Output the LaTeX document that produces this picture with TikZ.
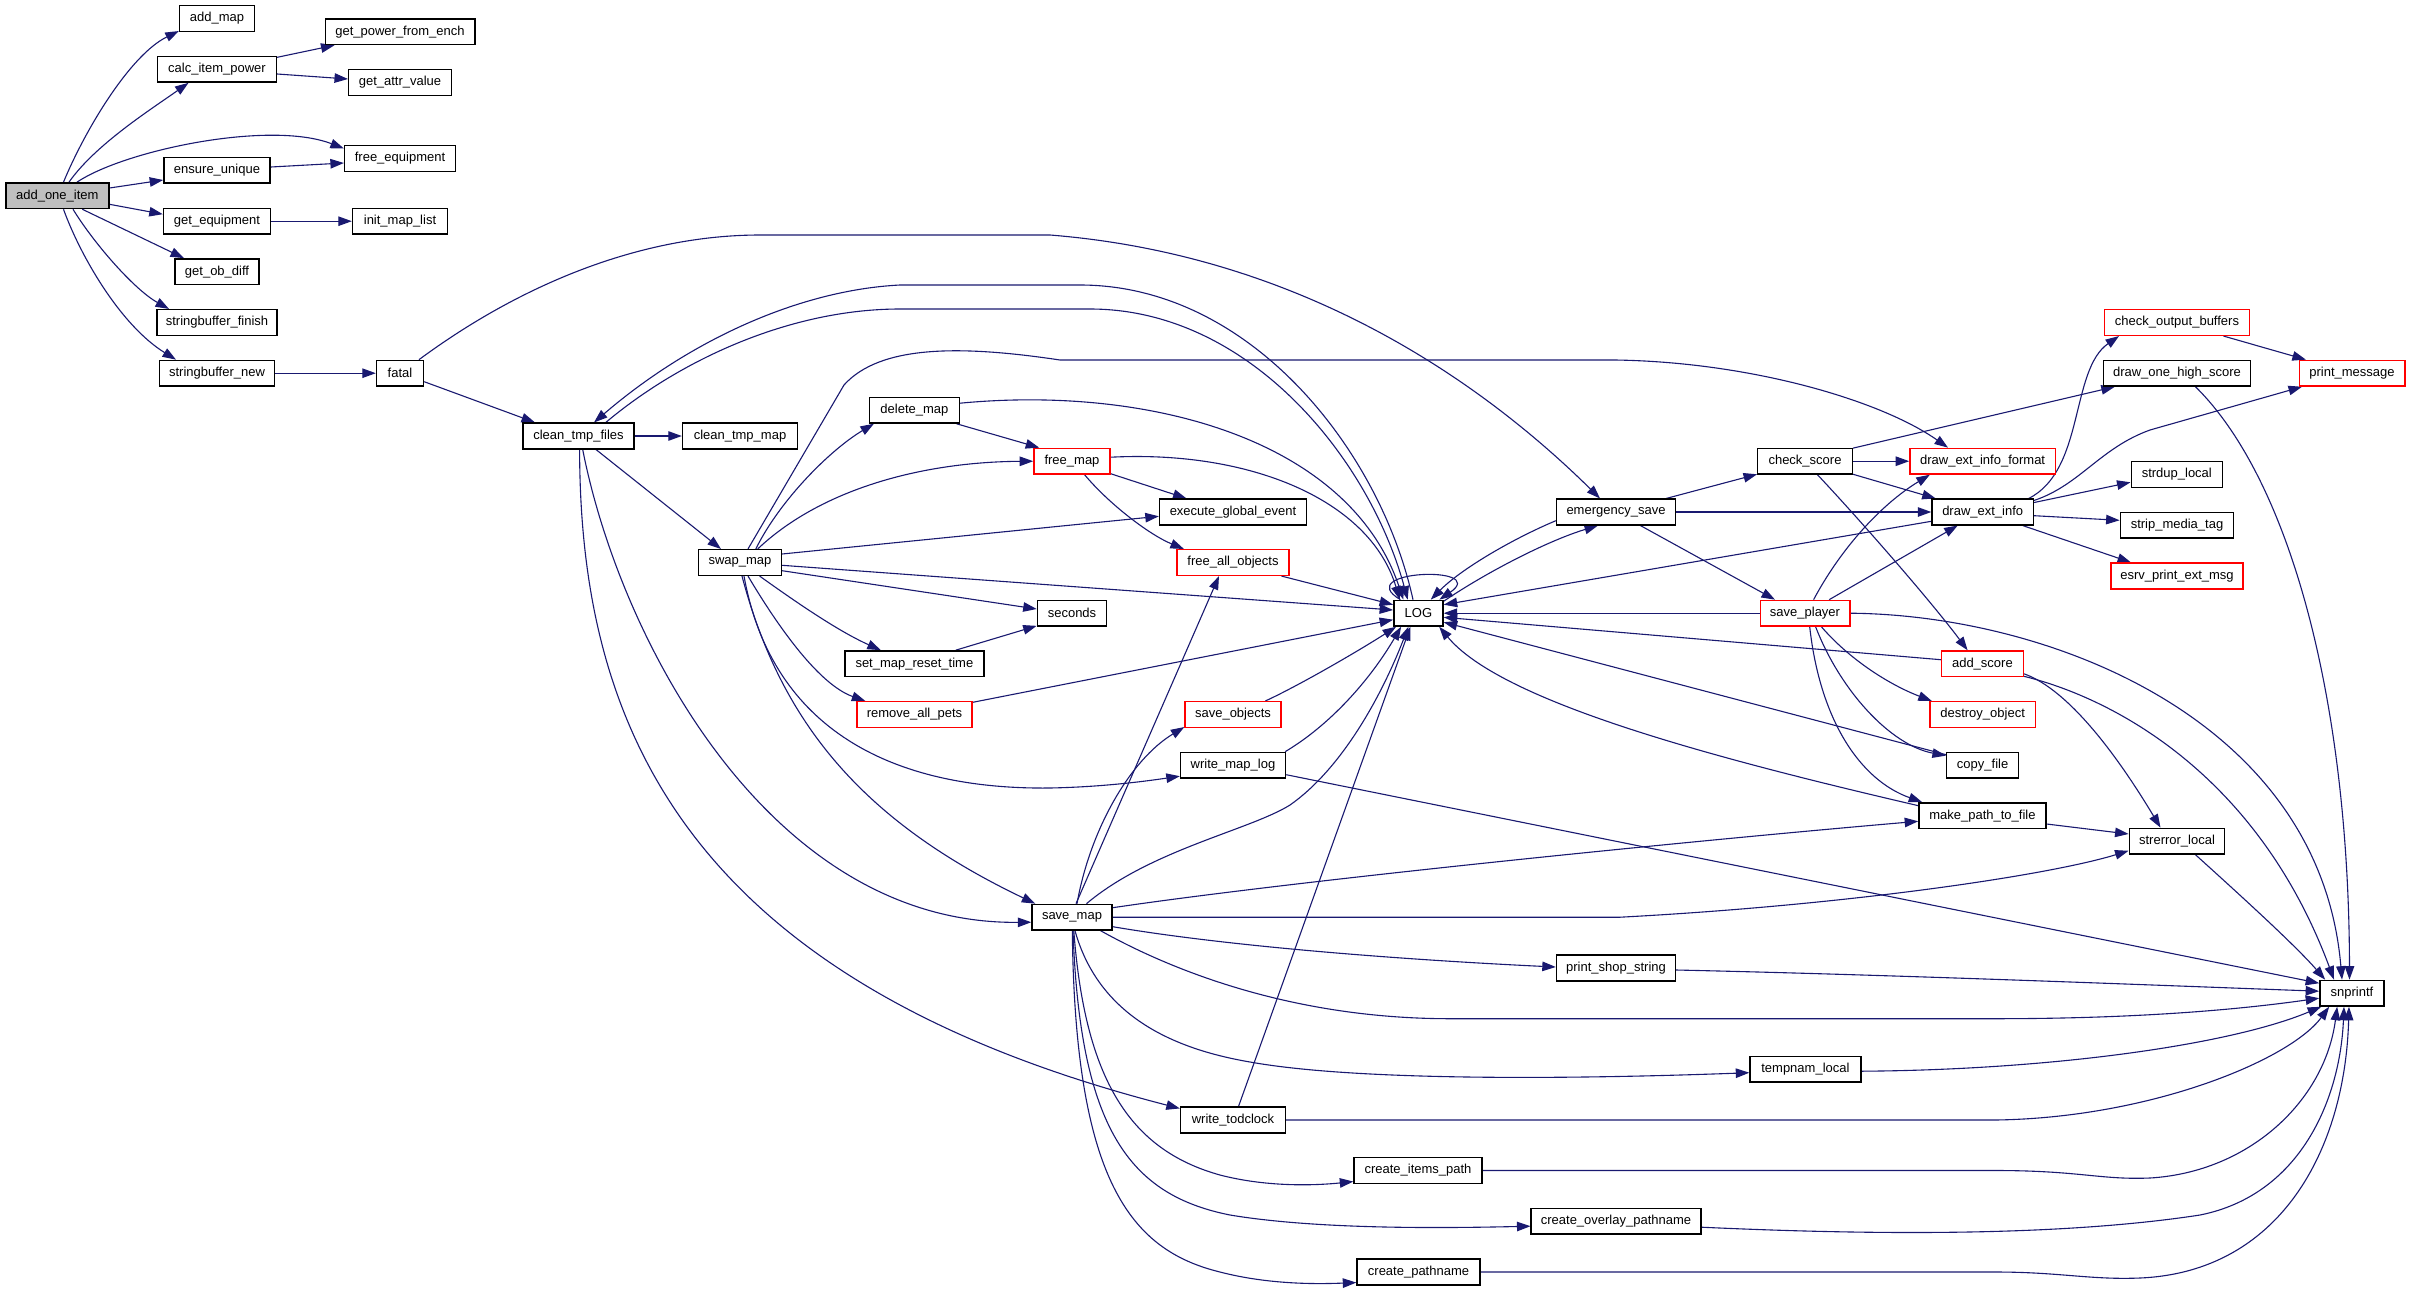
\documentclass[tikz,border=0pt]{standalone}
\usepackage{fontspec}
\newfontfamily\dfont{Liberation Sans}
\usetikzlibrary{arrows.meta}
\definecolor{edgec}{RGB}{25,25,112}
\definecolor{grayfill}{RGB}{191,191,191}
\pgfdeclarelayer{bg}
\pgfsetlayers{bg,main}
\tikzset{
  box/.style={draw=black, line width=0.7pt, fill=white, rectangle, inner sep=0pt,
    minimum height=12.85pt, font=\dfont\fontsize{6.5pt}{7.8pt}\selectfont},
  redbox/.style={box, draw=red},
  bw/.style={minimum width=#1*0.5pt},
  e/.style={draw=edgec, line width=0.55pt, -{Triangle[length=6.75pt,width=4.75pt]}},
}
\begin{document}
\begin{tikzpicture}[x=0.5pt,y=-0.5pt]
\path[use as bounding box] (0,0) rectangle (2411,1291);

\node[box, bw=103, fill=grayfill] (add_one_item) at (57.3,195.7) {add\_one\_item};
\node[box, bw=75] (add_map) at (217,18.5) {add\_map};
\node[box, bw=119] (calc_item_power) at (217,69.3) {calc\_item\_power};
\node[box, bw=149.6] (get_power_from_ench) at (400,31.7) {get\_power\_from\_ench};
\node[box, bw=102.6] (get_attr_value) at (400,82.5) {get\_attr\_value};
\node[box, bw=110.8] (free_equipment) at (400,158.5) {free\_equipment};
\node[box, bw=106.2] (ensure_unique) at (217,170.2) {ensure\_unique};
\node[box, bw=107] (get_equipment) at (217,221.2) {get\_equipment};
\node[box, bw=95] (init_map_list) at (400,221.2) {init\_map\_list};
\node[box, bw=84.2] (get_ob_diff) at (217,271.7) {get\_ob\_diff};
\node[box, bw=120] (stringbuffer_finish) at (217,322.5) {stringbuffer\_finish};
\node[box, bw=115] (stringbuffer_new) at (217,373.2) {stringbuffer\_new};
\node[box, bw=47] (fatal) at (400,373.2) {fatal};
\node[box, bw=111] (clean_tmp_files) at (578.5,436) {clean\_tmp\_files};
\node[box, bw=115] (clean_tmp_map) at (740,436) {clean\_tmp\_map};
\node[box, bw=89.6] (delete_map) at (914.4,410.2) {delete\_map};
\node[redbox, bw=76.2] (free_map) at (1072,461.2) {free\_map};
\node[box, bw=147] (execute_global_event) at (1233,512) {execute\_global\_event};
\node[redbox, bw=112] (free_all_objects) at (1233,562.5) {free\_all\_objects};
\node[box, bw=82.7] (swap_map) at (740,562.5) {swap\_map};
\node[box, bw=49.2] (LOG) at (1418.4,613.2) {LOG};
\node[box, bw=69.2] (seconds) at (1072,613.3) {seconds};
\node[box, bw=138.8] (set_map_reset_time) at (914.4,663.7) {set\_map\_reset\_time};
\node[redbox, bw=115] (remove_all_pets) at (914.5,714.5) {remove\_all\_pets};
\node[redbox, bw=96] (save_objects) at (1233,714.5) {save\_objects};
\node[box, bw=105] (write_map_log) at (1233,765.2) {write\_map\_log};
\node[box, bw=80] (save_map) at (1072,917.2) {save\_map};
\node[box, bw=119] (emergency_save) at (1616,512) {emergency\_save};
\node[box, bw=94.5] (check_score) at (1805,461.2) {check\_score};
\node[redbox, bw=145.4] (draw_ext_info_format) at (1982.6,461.2) {draw\_ext\_info\_format};
\node[box, bw=101.4] (draw_ext_info) at (1982.7,512) {draw\_ext\_info};
\node[redbox, bw=89.6] (save_player) at (1805,613.2) {save\_player};
\node[redbox, bw=81.8] (add_score) at (1982.4,663.8) {add\_score};
\node[redbox, bw=105.6] (destroy_object) at (1982.6,714.5) {destroy\_object};
\node[box, bw=72] (copy_file) at (1982.6,765.2) {copy\_file};
\node[box, bw=127] (make_path_to_file) at (1982.4,815.7) {make\_path\_to\_file};
\node[box, bw=95.5] (strerror_local) at (2177,841.2) {strerror\_local};
\node[redbox, bw=144.6] (check_output_buffers) at (2177,322.5) {check\_output\_buffers};
\node[box, bw=147] (draw_one_high_score) at (2177,373.2) {draw\_one\_high\_score};
\node[redbox, bw=105.6] (print_message) at (2352,373.2) {print\_message};
\node[box, bw=91.2] (strdup_local) at (2176.8,474.5) {strdup\_local};
\node[box, bw=113.4] (strip_media_tag) at (2177,525.2) {strip\_media\_tag};
\node[redbox, bw=132] (esrv_print_ext_msg) at (2177,576) {esrv\_print\_ext\_msg};
\node[box, bw=64.3] (snprintf) at (2352,993.2) {snprintf};
\node[box, bw=119] (print_shop_string) at (1616,968) {print\_shop\_string};
\node[box, bw=110.8] (tempnam_local) at (1805.4,1069.2) {tempnam\_local};
\node[box, bw=105] (write_todclock) at (1233,1120) {write\_todclock};
\node[box, bw=128] (create_items_path) at (1418,1170.5) {create\_items\_path};
\node[box, bw=169.7] (create_overlay_pathname) at (1616,1221.2) {create\_overlay\_pathname};
\node[box, bw=123] (create_pathname) at (1418.5,1272) {create\_pathname};

\begin{pgfonlayer}{bg}
\fill[white] (0,0) rectangle (2411,1291);
% add_one_item
\draw[e] ([shift={(6.2,0)}]add_one_item.north) .. controls (85,130) and (130,55) .. ([shift={(0,-1)}]add_map.south west);
\draw[e] ([shift={(11.7,0)}]add_one_item.north) .. controls (95,145) and (150,110) .. ([shift={(-28.5,0)}]calc_item_power.south);
\draw[e] ([shift={(19.7,0)}]add_one_item.north) .. controls (125,150) and (270,120) .. ([shift={(0,-10)}]free_equipment.west);
\draw[e] ([shift={(0,-7.7)}]add_one_item.east) -- ([shift={(0,9.8)}]ensure_unique.west);
\draw[e] ([shift={(0,8.6)}]add_one_item.east) -- ([shift={(0,-7)}]get_equipment.west);
\draw[e] ([shift={(25,0)}]add_one_item.south) -- ([shift={(-33,0)}]get_ob_diff.north);
\draw[e] ([shift={(15.7,0)}]add_one_item.south) .. controls (95,245) and (135,290) .. ([shift={(-48,0)}]stringbuffer_finish.north);
\draw[e] ([shift={(6.2,0)}]add_one_item.south) .. controls (80,255) and (120,325) .. ([shift={(-41,0)}]stringbuffer_new.north);
\draw[e] ([shift={(0,-12)}]calc_item_power.east) -- ([shift={(10,0)}]get_power_from_ench.south west);
\draw[e] ([shift={(0,4.7)}]calc_item_power.east) -- ([shift={(0,-3.5)}]get_attr_value.west);
\draw[e] ([shift={(0,-3.2)}]ensure_unique.east) -- ([shift={(0,4.5)}]free_equipment.west);
\draw[e] (get_equipment.east) -- (init_map_list.west);
\draw[e] (stringbuffer_new.east) -- (fatal.west);
% fatal
\draw[e] ([shift={(0,8.5)}]fatal.east) -- ([shift={(-43.5,0)}]clean_tmp_files.north);
\draw[e] ([shift={(19,0)}]fatal.north) .. controls (520,285) and (640,235) .. (760,235) -- (1050,235) .. controls (1300,255) and (1480,380) .. ([shift={(-16,0)}]emergency_save.north);
% clean_tmp_files
\draw[e] (clean_tmp_files.east) -- (clean_tmp_map.west);
\draw[e] ([shift={(17.5,0)}]clean_tmp_files.south) -- ([shift={(-19,0)}]swap_map.north);
\draw[e] ([shift={(4.2,0)}]clean_tmp_files.south) .. controls (620,640) and (770,925) .. ([shift={(0,5)}]save_map.west);
\draw[e] ([shift={(1.1,0)}]clean_tmp_files.south) .. controls (580,720) and (680,980) .. ([shift={(0,2)}]write_todclock.north west);
\draw[e] ([shift={(27.3,0)}]clean_tmp_files.north) .. controls (680,360) and (790,309) .. (900,309) -- (1090,309) .. controls (1250,309) and (1370,460) .. ([shift={(-10.7,0)}]LOG.north);
\draw[e] ([shift={(-5.4,0)}]LOG.north) .. controls (1380,450) and (1250,285) .. (1080,285) -- (900,285) .. controls (800,290) and (690,340) .. ([shift={(15.5,0)}]clean_tmp_files.north);
% delete_map, free_map
\draw[e] ([shift={(0,-7)}]delete_map.east) .. controls (1150,385) and (1350,440) .. ([shift={(-15,0)}]LOG.north);
\draw[e] ([shift={(0,-4)}]free_map.east) .. controls (1250,450) and (1370,500) .. ([shift={(-18.6,0)}]LOG.north);
\draw[e] ([shift={(-3.4,0)}]delete_map.south east) -- ([shift={(6,0)}]free_map.north west);
\draw[e] ([shift={(0,-1)}]free_map.south east) -- ([shift={(-46.5,0)}]execute_global_event.north);
\draw[e] ([shift={(12.6,0)}]free_map.south) .. controls (1110,505) and (1150,535) .. ([shift={(7.6,0)}]free_all_objects.north west);
% swap_map
\draw[e] ([shift={(15.8,0)}]swap_map.north) .. controls (780,500) and (830,450) .. ([shift={(5,0)}]delete_map.south west);
\draw[e] ([shift={(8,0)}]swap_map.north) -- (844,385) .. controls (880,345) and (960,345) .. (1060,360) -- (1615,360) .. controls (1750,362) and (1880,400) .. ([shift={(-34.6,0)}]draw_ext_info_format.north);
\draw[e] ([shift={(17.7,0)}]swap_map.north) .. controls (820,490) and (920,462) .. (free_map.west);
\draw[e] ([shift={(0,-8.5)}]swap_map.east) -- ([shift={(0,4.3)}]execute_global_event.west);
\draw[e] ([shift={(0,2.8)}]swap_map.east) -- ([shift={(0,-3.2)}]LOG.west);
\draw[e] ([shift={(0,8.2)}]swap_map.east) -- ([shift={(0,-4.3)}]seconds.west);
\draw[e] ([shift={(19.6,0)}]swap_map.south) .. controls (800,605) and (840,632) .. ([shift={(-33.6,0)}]set_map_reset_time.north);
\draw[e] ([shift={(8,0)}]swap_map.south) .. controls (780,630) and (820,685) .. ([shift={(9,0)}]remove_all_pets.north west);
\draw[e] ([shift={(4,0)}]swap_map.south) .. controls (770,720) and (880,790) .. (1050,788) .. controls (1100,787) and (1140,782) .. ([shift={(0,11)}]write_map_log.west);
\draw[e] ([shift={(2,0)}]swap_map.south) .. controls (780,720) and (860,820) .. ([shift={(4,0)}]save_map.north west);
\draw[e] ([shift={(41.4,0)}]set_map_reset_time.north) -- ([shift={(0,-1)}]seconds.south west);
% into LOG from left
\draw[e] ([shift={(-8.2,0)}]free_all_objects.south east) -- ([shift={(0,-8.5)}]LOG.west);
\draw[e] ([shift={(0,1.35)}]remove_all_pets.north east) -- ([shift={(0,6.5)}]LOG.west);
\draw[e] ([shift={(32.4,0)}]save_objects.north) .. controls (1300,685) and (1360,650) .. ([shift={(3,0)}]LOG.south west);
\draw[e] ([shift={(-1,0)}]write_map_log.north east) .. controls (1330,725) and (1370,680) .. ([shift={(8,0)}]LOG.south west);
\draw[e] ([shift={(14.5,0)}]save_map.north) .. controls (1150,850) and (1250,830) .. (1290,805) .. controls (1340,770) and (1380,700) .. ([shift={(-10,0)}]LOG.south);
\draw[e] ([shift={(5.5,0)}]write_todclock.north) -- ([shift={(-8,0)}]LOG.south);
% LOG self loop
\draw[e] ([shift={(-18,0)}]LOG.north) .. controls (1350,570) and (1490,565) .. ([shift={(21,0)}]LOG.north);
% save_map
\draw[e] ([shift={(4,0)}]save_map.north) -- ([shift={(-14,0)}]free_all_objects.south);
\draw[e] ([shift={(5,0)}]save_map.north) .. controls (1090,830) and (1130,760) .. ([shift={(0,-1)}]save_objects.south west);
\draw[e] ([shift={(0,-9.5)}]save_map.east) .. controls (1300,880) and (1700,840) .. ([shift={(0,5.6)}]make_path_to_file.west);
\draw[e] (save_map.east) -- (1620,917.2) .. controls (1850,905) and (2050,875) .. ([shift={(0,-4)}]strerror_local.south west);
\draw[e] ([shift={(0,9.5)}]save_map.east) .. controls (1250,950) and (1450,962) .. ([shift={(0,-1)}]print_shop_string.west);
\draw[e] ([shift={(-12,0)}]save_map.south east) .. controls (1180,975) and (1300,1018.7) .. (1450,1018.7) -- (1995,1018.7) .. controls (2150,1018.7) and (2250,1008) .. ([shift={(0,5)}]snprintf.west);
\draw[e] ([shift={(3,0)}]save_map.south) .. controls (1100,1020) and (1180,1050) .. (1250,1062) .. controls (1350,1080) and (1550,1080) .. ([shift={(0,3.5)}]tempnam_local.west);
\draw[e] ([shift={(1.8,0)}]save_map.south) .. controls (1085,1080) and (1130,1150) .. (1220,1175) .. controls (1270,1188) and (1320,1185) .. ([shift={(0,-2.5)}]create_items_path.south west);
\draw[e] ([shift={(1,0)}]save_map.south) .. controls (1080,1130) and (1130,1195) .. (1230,1215) .. controls (1320,1230) and (1450,1228) .. ([shift={(0,5)}]create_overlay_pathname.west);
\draw[e] ([shift={(0.3,0)}]save_map.south) .. controls (1075,1180) and (1130,1250) .. (1220,1272) .. controls (1270,1285) and (1320,1284) .. ([shift={(0,-3)}]create_pathname.south west);
% emergency_save and LOG right side
\draw[e] ([shift={(0,8.7)}]emergency_save.west) .. controls (1510,540) and (1460,570) .. ([shift={(12.4,0)}]LOG.north);
\draw[e] ([shift={(0,-12)}]LOG.east) .. controls (1490,570) and (1550,540) .. ([shift={(-18,0)}]emergency_save.south);
\draw[e] ([shift={(0,9.3)}]draw_ext_info.west) -- ([shift={(0,-8.5)}]LOG.east);
\draw[e] (save_player.west) -- (LOG.east);
\draw[e] ([shift={(0,-4.1)}]add_score.west) -- ([shift={(0,4.1)}]LOG.east);
\draw[e] ([shift={(0,3)}]copy_file.north west) -- ([shift={(0,9)}]LOG.east);
\draw[e] ([shift={(0,3.5)}]make_path_to_file.north west) .. controls (1700,755) and (1500,700) .. ([shift={(-4.5,0)}]LOG.south east);
\draw[e] ([shift={(-10,0)}]emergency_save.north east) -- ([shift={(0,-0.5)}]check_score.south west);
\draw[e] (emergency_save.east) -- (draw_ext_info.west);
\draw[e] ([shift={(24.4,0)}]emergency_save.south) -- ([shift={(-30,0)}]save_player.north);
% check_score
\draw[e] (check_score.east) -- (draw_ext_info_format.west);
\draw[e] ([shift={(0,-0.5)}]check_score.south east) -- ([shift={(4.4,0)}]draw_ext_info.north west);
\draw[e] ([shift={(0,0.5)}]check_score.north east) -- ([shift={(12,0)}]draw_one_high_score.south west);
\draw[e] ([shift={(12.5,0)}]check_score.south) .. controls (1860,520) and (1930,600) .. ([shift={(-14.8,0)}]add_score.north);
% draw_ext_info
\draw[e] ([shift={(-5.4,0)}]draw_ext_info.north east) .. controls (2085,470) and (2070,370) .. ([shift={(15,0)}]check_output_buffers.south west);
\draw[e] ([shift={(0,2)}]draw_ext_info.north east) .. controls (2080,485) and (2100,448) .. (2150,430) -- ([shift={(3.5,0)}]print_message.south west);
\draw[e] ([shift={(0,-9.5)}]draw_ext_info.east) -- ([shift={(0,7.8)}]strdup_local.west);
\draw[e] ([shift={(0,3.7)}]draw_ext_info.east) -- ([shift={(0,-4.9)}]strip_media_tag.west);
\draw[e] ([shift={(-11.4,0)}]draw_ext_info.south east) -- ([shift={(-46,0)}]esrv_print_ext_msg.north);
\draw[e] ([shift={(-26.5,0)}]check_output_buffers.south east) -- ([shift={(7.4,0)}]print_message.north west);
\draw[e] ([shift={(18.5,0)}]draw_one_high_score.south) .. controls (2290,480) and (2349,700) .. ([shift={(-2.5,0)}]snprintf.north);
% save_player
\draw[e] ([shift={(8.6,0)}]save_player.north) .. controls (1840,550) and (1880,505) .. ([shift={(20.6,0)}]draw_ext_info_format.south west);
\draw[e] ([shift={(24.2,0)}]save_player.north) -- ([shift={(-25,0)}]draw_ext_info.south);
\draw[e] (save_player.east) .. controls (2050,615) and (2320,720) .. ([shift={(-10,0)}]snprintf.north);
\draw[e] ([shift={(16.4,0)}]save_player.south) .. controls (1850,660) and (1890,685) .. ([shift={(2.7,0)}]destroy_object.north west);
\draw[e] ([shift={(10.6,0)}]save_player.south) .. controls (1840,690) and (1890,745) .. ([shift={(0,4)}]copy_file.north west);
\draw[e] ([shift={(4.7,0)}]save_player.south) .. controls (1820,720) and (1860,780) .. ([shift={(4,0)}]make_path_to_file.north west);
% add_score, make_path, strerror
\draw[e] ([shift={(0,10)}]add_score.east) .. controls (2070,690) and (2120,760) .. ([shift={(-16.5,0)}]strerror_local.north);
\draw[e] ([shift={(0,12.5)}]add_score.east) .. controls (2120,700) and (2260,780) .. ([shift={(-18,0)}]snprintf.north);
\draw[e] ([shift={(0,8.3)}]make_path_to_file.east) -- ([shift={(0,-7.2)}]strerror_local.west);
\draw[e] ([shift={(18.5,0)}]strerror_local.south) .. controls (2240,895) and (2295,945) .. ([shift={(6,0)}]snprintf.north west);
% into snprintf
\draw[e] ([shift={(0,9.5)}]write_map_log.east) -- ([shift={(0,-10)}]snprintf.west);
\draw[e] ([shift={(0,2)}]print_shop_string.east) .. controls (1900,975) and (2150,985) .. ([shift={(0,-2)}]snprintf.west);
\draw[e] ([shift={(0,2)}]tempnam_local.east) .. controls (2050,1070) and (2230,1045) .. ([shift={(2,0)}]snprintf.south west);
\draw[e] (write_todclock.east) -- (1995,1120) .. controls (2150,1118) and (2290,1060) .. ([shift={(10,0)}]snprintf.south west);
\draw[e] (create_items_path.east) -- (1995,1170.5) .. controls (2080,1170.5) and (2100,1180) .. (2150,1178) .. controls (2250,1172) and (2325,1100) .. ([shift={(18,0)}]snprintf.south west);
\draw[e] ([shift={(0,6)}]create_overlay_pathname.east) .. controls (1850,1234) and (2050,1238) .. (2200,1215) .. controls (2300,1195) and (2340,1100) .. ([shift={(-8,0)}]snprintf.south);
\draw[e] (create_pathname.east) -- (1995,1272) .. controls (2060,1272) and (2090,1280) .. (2140,1278) .. controls (2280,1272) and (2345,1150) .. ([shift={(-3,0)}]snprintf.south);
\end{pgfonlayer}
\end{tikzpicture}
\end{document}
